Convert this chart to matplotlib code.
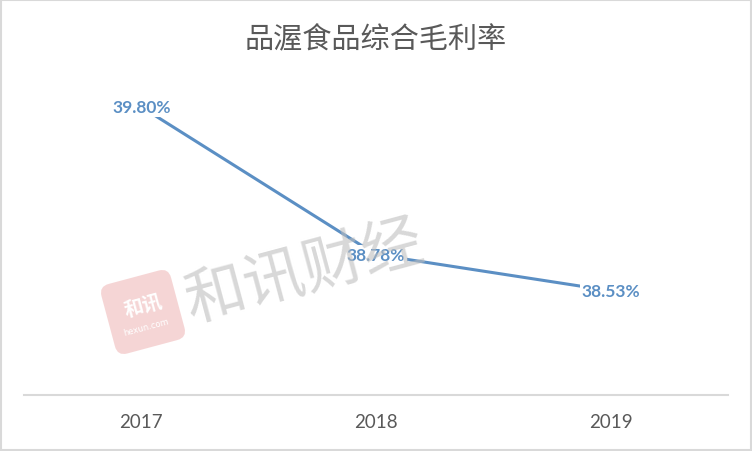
import matplotlib.pyplot as plt
from matplotlib.patches import FancyBboxPatch, Rectangle
import matplotlib.transforms as mtransforms

plt.rcParams['font.family'] = ['Noto Sans CJK SC', 'DejaVu Sans']

years = ['2017', '2018', '2019']
margin = [39.80, 38.78, 38.53]
labels = ['39.80%', '38.78%', '38.53%']

fig = plt.figure(figsize=(7.52, 4.52), dpi=100)
ax = fig.add_axes([24 / 752, 56 / 452, 704 / 752, 317 / 452])

line_color = '#5B8FC4'
x = list(range(len(years)))
ax.plot(x, margin, color=line_color, linewidth=2.2, solid_capstyle='round', zorder=2)
for xi, yi, lab in zip(x, margin, labels):
    ax.text(xi, yi, lab, ha='center', va='center', fontsize=12.5, fontweight='bold',
            color='#5B8FC4', family=['Lato', 'DejaVu Sans'], zorder=3,
            bbox=dict(boxstyle='square,pad=0.1', fc='white', ec='none'))

ax.set_xlim(-0.5, 2.5)
ax.set_ylim(37.81, 40.0)
ax.set_xticks(x)
ax.set_xticklabels(years, fontsize=13.5, color='#595959', family=['Lato', 'DejaVu Sans'])
ax.tick_params(axis='x', length=0, pad=13)
ax.set_yticks([])
for s in ['top', 'left', 'right']:
    ax.spines[s].set_visible(False)
ax.spines['bottom'].set_color('#D9D9D9')
ax.spines['bottom'].set_linewidth(1.5)

fig.text(0.5, 1 - 40 / 452, '品渥食品综合毛利率', ha='center', va='center',
         fontsize=21, color='#595959')

# watermark
fig.text(305 / 752, 1 - 273 / 452, '和讯财经', ha='center', va='center', fontsize=44,
         color='#BEBEBE', alpha=0.6, rotation=15, zorder=5)
tr = mtransforms.Affine2D().rotate_deg_around(143, 452 - 313, 15)
logo = FancyBboxPatch((143 - 36, 452 - 313 - 36), 72, 72,
                      boxstyle='round,pad=0,rounding_size=10',
                      fc='#F2C4C4', ec='none', alpha=0.7, zorder=4,
                      transform=tr + mtransforms.IdentityTransform())
fig.patches.append(logo)
fig.text(143 / 752, 1 - 306 / 452, '和讯', ha='center', va='center', fontsize=14,
         fontweight='bold', color='white', rotation=15, zorder=6)
fig.text(146 / 752, 1 - 328 / 452, 'hexun.com', ha='center', va='center', fontsize=6,
         color='white', rotation=15, zorder=6, family=['DejaVu Sans'])

# outer border
fig.patches.append(Rectangle((1, 1), 750, 450, fill=False, ec='#D9D9D9', lw=1.5,
                             transform=mtransforms.IdentityTransform()))

fig.savefig('out.png', dpi=100)
